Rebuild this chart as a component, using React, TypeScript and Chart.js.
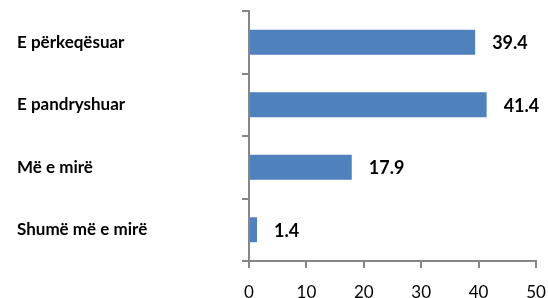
import React, { useEffect, useRef } from "react";
import { Chart, registerables } from "chart.js";

Chart.register(...registerables);

const categories = ["E përkeqësuar", "E pandryshuar", "Më e mirë", "Shumë më e mirë"];
const values = [39.4, 41.4, 17.9, 1.4];
const xTicks = [0, 10, 20, 30, 40, 50];

const AXIS = "#868686";
const FONT = "Lato, 'Open Sans', 'DejaVu Sans', sans-serif";

const valueLabels = {
  id: "valueLabels",
  afterDatasetsDraw(chart: any) {
    const ctx = chart.ctx;
    const meta = chart.getDatasetMeta(0);
    ctx.save();
    ctx.fillStyle = "#000";
    ctx.font = `bold 18px ${FONT}`;
    ctx.textAlign = "left";
    ctx.textBaseline = "middle";
    meta.data.forEach((bar: any, i: number) => {
      ctx.fillText(String(values[i]), bar.x + 17, bar.y + 1);
    });
    ctx.restore();
  },
};

export default function App() {
  const ref = useRef<HTMLCanvasElement>(null);
  useEffect(() => {
    document.body.style.margin = "0";
    const chart = new Chart(ref.current!, {
      type: "bar",
      data: {
        labels: categories,
        datasets: [
          {
            data: values,
            backgroundColor: "#4F81BD",
            borderWidth: 0,
            barPercentage: 0.4,
            categoryPercentage: 1,
          },
        ],
      },
      plugins: [valueLabels],
      options: {
        indexAxis: "y",
        responsive: false,
        animation: false,
        layout: { padding: { left: 17, top: 11, right: 12, bottom: 0 } },
        plugins: { legend: { display: false }, tooltip: { enabled: false } },
        scales: {
          x: {
            min: 0,
            max: 50,
            afterBuildTicks: (s: any) => {
              s.ticks = xTicks.map((v) => ({ value: v }));
            },
            afterFit: (s: any) => {
              s.height = 37;
              s.paddingLeft = 0;
              s.paddingRight = 0;
            },
            grid: { drawOnChartArea: false, tickLength: 7, color: AXIS, lineWidth: 2 },
            border: { display: true, color: AXIS, width: 2 },
            ticks: { color: "#000", font: { family: FONT, size: 17 }, padding: 14 },
          },
          y: {
            afterFit: (s: any) => {
              s.width = 232;
              s.paddingTop = 0;
              s.paddingBottom = 0;
            },
            grid: { drawOnChartArea: false, tickLength: 7, color: AXIS, lineWidth: 2, offset: true },
            border: { display: true, color: AXIS, width: 2 },
            ticks: {
              color: "#000",
              crossAlign: "far",
              font: { family: FONT, size: 17, weight: "bold" },
            },
          },
        },
      },
    });
    return () => chart.destroy();
  }, []);
  return <canvas ref={ref} width={548} height={298} style={{ display: "block" }} />;
}
